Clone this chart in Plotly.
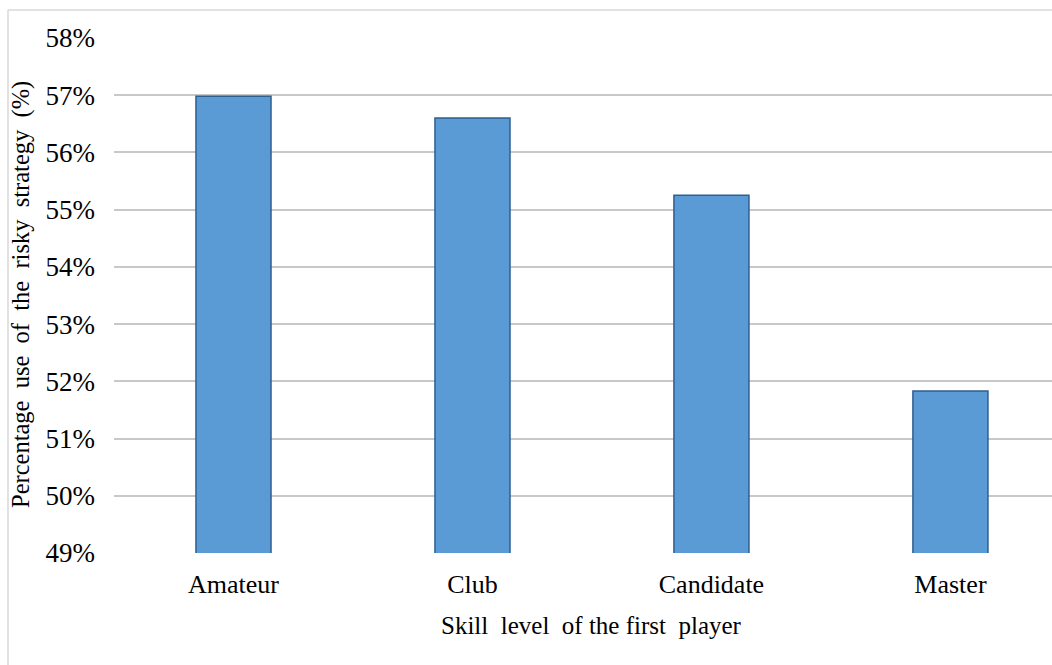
import plotly.graph_objects as go

# Share of games in which the first player chose the risky strategy
skill_levels = ["Amateur", "Club", "Candidate", "Master"]
risky_share = [56.98, 56.60, 55.25, 51.83]  # percent

y_ticks = list(range(49, 59))
y_tick_labels = [f"{v}%" for v in y_ticks]

FONT = "Liberation Serif, Times New Roman, serif"
NB = "\u00a0 "  # widened word gap

x_title = "Skill" + NB + "level" + NB + "of the first" + NB + "player"
y_title = NB.join(["Percentage", "use", "of", "the", "risky", "strategy", "(%)"])

# plot area geometry in pixels
L, T, B, W, H = 114, 38, 112, 1052, 665
PW, PH = W - L, H - T - B

fig = go.Figure(
    go.Bar(
        x=skill_levels,
        y=risky_share,
        base=0,
        marker=dict(color="#5B9BD5", line=dict(color="#2F5F8F", width=1.5)),
        hoverinfo="x+y",
    )
)

fig.update_layout(
    width=W,
    height=H,
    margin=dict(l=L, r=0, t=T, b=B),
    paper_bgcolor="white",
    plot_bgcolor="white",
    bargap=0.686,
    showlegend=False,
    font=dict(family=FONT, color="#000000", size=26),
)

fig.update_xaxes(
    type="category",
    range=[-0.5, 3.425],
    showgrid=False,
    showline=False,
    ticks="",
    ticklabelstandoff=13,
    tickfont=dict(size=26),
    automargin=False,
)

fig.update_yaxes(
    range=[49, 58],
    tickvals=y_ticks,
    ticktext=y_tick_labels,
    showgrid=True,
    gridcolor="#C8C8C8",
    gridwidth=1.5,
    zeroline=False,
    showline=False,
    ticks="",
    ticklabelstandoff=18,
    tickfont=dict(size=27),
    automargin=False,
)

# Axis titles: x title centred under the four categories, y title rotated at left
fig.add_annotation(text=x_title, xref="x", x=1.5, yref="paper", y=-(625 - (H - B)) / PH,
                   xanchor="center", yanchor="middle", showarrow=False,
                   font=dict(size=25))
fig.add_annotation(text=y_title, xref="paper", x=(21 - L) / PW, yref="paper",
                   y=((H - B) - 295) / PH, xanchor="center", yanchor="middle",
                   textangle=-90, showarrow=False, font=dict(size=24.5))

# Outer chart frame (top and left edges)
frame_x = (8 - L) / PW
frame_y = ((H - B) - 10) / PH
fig.add_shape(type="line", xref="paper", yref="paper",
              x0=frame_x, x1=1.0, y0=frame_y, y1=frame_y,
              line=dict(color="#D9D9D9", width=1.5))
fig.add_shape(type="line", xref="paper", yref="paper",
              x0=frame_x, x1=frame_x, y0=frame_y, y1=-0.3,
              line=dict(color="#D9D9D9", width=1.5))

fig.write_html("out.html")
